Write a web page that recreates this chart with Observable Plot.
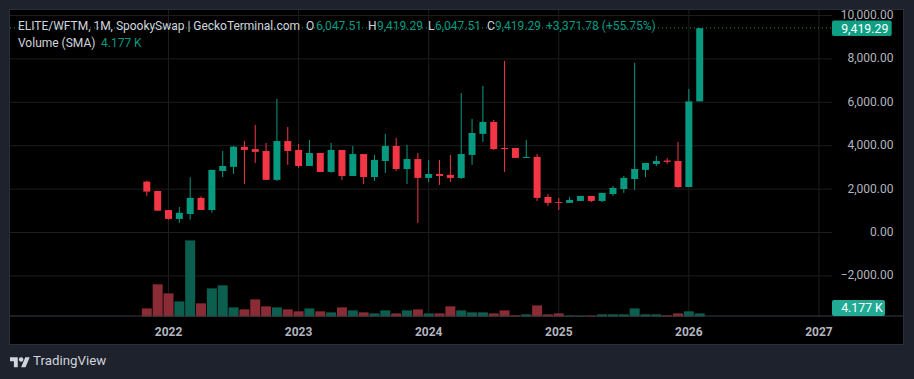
<!DOCTYPE html>
<html><head><meta charset="utf-8">
<script src="https://cdn.jsdelivr.net/npm/d3@7"></script>
<script src="https://cdn.jsdelivr.net/npm/@observablehq/plot@0.6"></script>
<style>
html,body{margin:0;padding:0;background:#1e222d;width:914px;height:379px;overflow:hidden;font-family:Roboto,sans-serif}
#panel{position:absolute;left:10px;top:10px;width:893px;height:334px;background:#000;box-shadow:0 0 0 1px #2a2e39}
#panel svg{display:block;background:#000}
.h{position:absolute;white-space:nowrap;font-size:12px;line-height:16px;color:#d1d4dc}
.g{color:#089981}
#foot{position:absolute;left:33px;top:353px;font-size:13.3px;line-height:16px;color:#d1d4dc}
#logo{position:absolute;left:10px;top:355px}
</style></head><body>
<div id="panel"></div>
<div class="h" style="left:18px;top:18px;letter-spacing:-0.02px">ELITE/WFTM, 1M, SpookySwap | GeckoTerminal.com</div>
<div class="h" style="left:306px;top:18px">O</div><div class="h g" style="left:316px;top:18px">6,047.51</div>
<div class="h" style="left:368px;top:18px">H</div><div class="h g" style="left:377px;top:18px">9,419.29</div>
<div class="h" style="left:428px;top:18px">L</div><div class="h g" style="left:435px;top:18px">6,047.51</div>
<div class="h" style="left:487px;top:18px">C</div><div class="h g" style="left:495px;top:18px">9,419.29</div>
<div class="h g" style="left:546px;top:18px">+3,371.78 (+55.75%)</div>
<div class="h" style="left:18px;top:35px">Volume (SMA)</div>
<div class="h g" style="left:101px;top:35px">4.177 K</div>
<svg id="logo" width="20" height="14" viewBox="0 0 36 25"><path fill="#d1d4dc" d="M14 22H7V11H0V4h14v18zM28 22h-8l7.5-18h8L28 22z"/><circle fill="#d1d4dc" cx="20" cy="8" r="4"/></svg>
<div id="foot">TradingView</div>
<script>
const months = ["2021-11","2021-12","2022-01","2022-02","2022-03","2022-04","2022-05","2022-06","2022-07","2022-08","2022-09","2022-10","2022-11","2022-12","2023-01","2023-02","2023-03","2023-04","2023-05","2023-06","2023-07","2023-08","2023-09","2023-10","2023-11","2023-12","2024-01","2024-02","2024-03","2024-04","2024-05","2024-06","2024-07","2024-08","2024-09","2024-10","2024-11","2024-12","2025-01","2025-02","2025-03","2025-04","2025-05","2025-06","2025-07","2025-08","2025-09","2025-10","2025-11","2025-12","2026-01","2026-02"];
const open = [2350,1920,1040,630,860,1600,1040,2840,3030,3950,3850,3760,2430,4220,3810,3070,3670,2795,3810,2610,3620,2560,3300,3990,2930,3390,2520,2700,2660,2520,3580,4550,5100,3900,3900,3440,3490,1640,1410,1370,1460,1690,1460,1780,2010,2470,2890,3160,3320,3300,2100,6047.51];
const high = [2395,1920,1040,1180,2550,1670,2890,3760,3990,4220,4960,4130,6160,4870,4085,4270,3670,4130,3810,3990,3620,3580,4550,4360,4040,3670,3350,3350,3580,6430,5240,6760,5190,7910,3900,4270,3620,1780,1600,1640,1690,1690,1830,2150,2610,7820,3210,3530,3440,4180,6620,9419.29];
const low = [1690,1010,600,445,600,1040,920,2560,2700,2240,3210,2430,2380,3120,2990,3070,2795,2760,2430,2610,2240,2380,2750,2840,2240,445,2330,2200,2330,2470,3120,4180,3810,2795,3440,3440,1460,1230,1040,1370,1460,1410,1410,1690,1830,1970,2560,3070,3160,2060,2100,6047.51];
const close = [1890,1010,630,910,1600,1040,2890,3070,3960,3810,3720,2430,4220,3760,3070,3670,2795,3810,2610,3620,2560,3350,3990,2930,3390,2520,2700,2610,2520,3620,4590,5100,3850,3850,3440,3490,1600,1370,1370,1505,1690,1460,1830,2060,2520,2930,3210,3300,3260,2100,6047.51,9419.29];
const volumeK = [10.5,41,29.5,19.4,96.6,16.9,35.9,39.7,11.8,9.3,21.9,13.1,11.8,9.3,6.8,10.5,6.8,5.5,11.8,8,5.5,4.2,8,4.2,8,9.3,4.2,4.2,13.1,8,5.5,5.5,4.2,8,1.7,3,14.3,3,4.2,1.3,1.3,1.3,3,3,3,10.5,3,3,1.7,4.2,6.8,4.177];
const yearLabels = ["2022","2023","2024","2025","2026","2027"];
const priceTicks = [-2000,0,2000,4000,6000,8000,10000];
const lastPrice = 9419.29;

const up = "#089981", down = "#f23645", upVol = "#0c5e4e", downVol = "#8a2b36";
const startIndex = months.indexOf("2022-01");
const table = months.map((m,i)=>({m, i:i-startIndex, o:open[i], h:high[i], l:low[i], c:close[i], v:volumeK[i], rise:close[i]>=open[i]}));
const yearTicks = yearLabels.map((_,i)=>i*12);
const pitch=10.84, xMin=-14.576, xMax=61.25, yMin=-3889, yMax=10258;
const volBase=-3875, volUnit=36.4;           // volume overlay: K → price-axis units
const fmt = v => (v<0?"\u2212":"")+d3.format(",.2f")(Math.abs(v));
const tagEnd = xMax+59.7/pitch, volTagEnd = xMax+53/pitch;

const chart = Plot.plot({
  width:893, height:334, marginLeft:0, marginRight:71, marginTop:0, marginBottom:27,
  style:{background:"#000",fontFamily:"Roboto,sans-serif",overflow:"visible"},
  x:{type:"linear",domain:[xMin,xMax],axis:null},
  y:{type:"linear",domain:[yMin,yMax],axis:null},
  marks:[
    Plot.ruleX(yearTicks,{stroke:"#1d1d1f"}),
    Plot.ruleY(priceTicks,{stroke:"#1d1d1f",dy:-0.6}),
    Plot.ruleX(table,{x:"i",y1:volBase,y2:d=>volBase+d.v*volUnit,stroke:d=>d.rise?upVol:downVol,strokeWidth:10}),
    Plot.ruleX(table,{x:"i",y1:"l",y2:"h",stroke:d=>d.rise?up:down,strokeWidth:1}),
    Plot.ruleX(table,{x:"i",y1:"o",y2:"c",stroke:d=>d.rise?up:down,strokeWidth:7}),
    Plot.ruleY([lastPrice],{stroke:up,strokeDasharray:"1 3",strokeWidth:1,dy:-0.8}),
    Plot.ruleY([yMin],{stroke:"#3a3d45",x1:xMin,x2:xMax+71/pitch,dy:-1.5}),
    Plot.axisX({ticks:yearTicks,tickFormat:i=>yearLabels[i/12],tickSize:0,tickPadding:10,anchor:"bottom",label:null,
      fontSize:12,fontWeight:700,fill:"#b2b5be"}),
    Plot.axisY({ticks:priceTicks,tickFormat:fmt,tickSize:0,anchor:"right",label:null,textAnchor:"end",dx:61,dy:-1,tickPadding:0,
      fontSize:12,fill:"#b2b5be"}),
    Plot.rect([{}],{x1:xMax,x2:tagEnd,y1:lastPrice-360,y2:lastPrice+360,fill:"#0f9f84",rx:2}),
    Plot.text([fmt(lastPrice)],{x:xMax+0.8,y:lastPrice,text:d=>d,textAnchor:"start",fill:"#fff",fontSize:12.3}),
    Plot.rect([{}],{x1:xMax,x2:volTagEnd,y1:-3840,y2:-3100,fill:"#22ab94",rx:2}),
    Plot.text(["4.177 K"],{x:xMax+0.8,y:-3470,text:d=>d,textAnchor:"start",fill:"#fff",fontSize:12.3})
  ]
});
document.getElementById("panel").append(chart);
</script>
</body></html>
